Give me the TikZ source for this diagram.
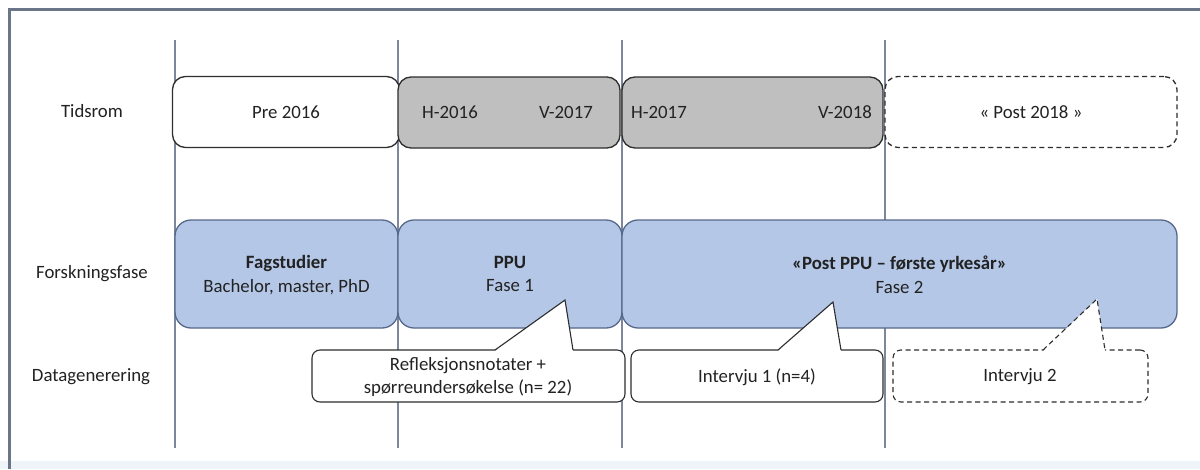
\documentclass[tikz,border=0pt]{standalone}
\usepackage{fontspec}
\setmainfont{Carlito}
\usetikzlibrary{calc}
\definecolor{txtc}{HTML}{222222}
\definecolor{bluefill}{HTML}{B4C7E7}
\definecolor{blueline}{HTML}{55688A}
\definecolor{grayfill}{HTML}{BFBFBF}
\definecolor{grayline}{HTML}{2E2E2E}
\definecolor{vline}{HTML}{7C879B}
\definecolor{framec}{HTML}{6A7688}
\definecolor{bottomc}{HTML}{EEF4F8}
\tikzset{
  lbl/.style={font=\fontsize{18.8}{23.5}\selectfont, text=txtc, inner sep=0pt},
  txt/.style={font=\fontsize{18.8}{23.5}\selectfont, text=txtc, align=center, inner sep=0pt},
  timebox/.style={draw=grayline, line width=1.3pt, rounded corners=13pt, minimum height=71pt, inner sep=0pt},
  phasebox/.style={draw=blueline, fill=bluefill, line width=1.3pt, rounded corners=16pt, minimum height=108pt, inner sep=0pt},
  databox/.style={draw=grayline, fill=white, line width=1.1pt, rounded corners=8pt, minimum height=52pt, inner sep=0pt},
  divider/.style={draw=vline, line width=1.2pt},
  ptr/.style={draw=grayline, line width=1.1pt, line join=miter},
  dashline/.style={dashed, dash pattern=on 5pt off 3.5pt},
}
\begin{document}
\begin{tikzpicture}[x=1pt,y=-1pt]
\useasboundingbox (0,0) rectangle (1200,469);
\fill[white] (0,0) rectangle (1200,469);
\fill[bottomc] (0,461) rectangle (1200,469);
% frame
\coordinate (fa) at (9,469);
\coordinate (fb) at (9,9);
\coordinate (fc) at (1200,9);
\draw[framec, line width=3pt] (fa) -- (fb) -- (fc);
% dividers
\foreach \n/\x in {d1/175, d2/398, d3/622, d4/885}{
  \coordinate (\n t) at (\x,40);
  \coordinate (\n b) at (\x,448);
  \draw[divider] (\n t) -- (\n b);
}
% row labels
\node[lbl] (lab1) at (92,111) {Tidsrom};
\node[lbl] (lab2) at (92,274) {Forskningsfase};
\node[lbl] (lab3) at (91,377) {Datagenerering};
% row 1
\node[timebox, fill=white, minimum width=227pt] (pre) at (286,112) {};
\node[txt] (pret) at (pre) {Pre 2016};
\node[timebox, fill=grayfill, minimum width=222pt] (h16) at (509,112.5) {};
\node[txt] (h16a) at (450,112) {H-2016};
\node[txt] (h16b) at (566,112) {V-2017};
\node[timebox, fill=grayfill, minimum width=261pt] (h17) at (752.5,112.5) {};
\node[txt] (h17a) at (659,112) {H-2017};
\node[txt] (h17b) at (845,112) {V-2018};
\node[timebox, fill=white, dashline, minimum width=292pt] (post) at (1031,112) {};
\node[txt] (postt) at (post) {« Post 2018 »};
% row 2
\node[phasebox, minimum width=223pt] (fag) at (286.5,274) {};
\node[txt] (fagt) at (286.5,275) {\textbf{Fagstudier}\\Bachelor, master, PhD};
\node[phasebox, minimum width=224pt] (ppu) at (510,274) {};
\node[txt] (pput) at (510,274) {\textbf{PPU}\\Fase 1};
\node[phasebox, minimum width=555pt] (pppu) at (899.5,274) {};
\node[txt] (pppt) at (899.5,275) {\textbf{«Post PPU – første yrkesår»}\\Fase 2};
% row 3
\node[databox, minimum width=313pt] (refl) at (468.5,376) {};
\node[txt] (reflt) at (468,377) {Refleksjonsnotater +\\spørreundersøkelse (n= 22)};
\node[databox, minimum width=252pt] (int1) at (757,376) {};
\node[txt] (int1t) at (757,377) {Intervju 1 (n=4)};
\node[databox, dashline, minimum width=255pt] (int2) at (1020.5,376) {};
\node[txt] (int2t) at (1020,377) {Intervju 2};
% pointers
\coordinate (r1) at (495,350); \coordinate (rt) at (565,300); \coordinate (r2) at (573,350);
\fill[white] ($(r1)+(0,1)$) -- (rt) -- ($(r2)+(0,1)$) -- cycle;
\draw[ptr] (r1) -- (rt) -- (r2);
\coordinate (i1) at (778,350); \coordinate (it) at (833,302); \coordinate (i2) at (841,350);
\fill[white] ($(i1)+(0,1)$) -- (it) -- ($(i2)+(0,1)$) -- cycle;
\draw[ptr] (i1) -- (it) -- (i2);
\coordinate (j1) at (1043,350); \coordinate (jt) at (1097,299); \coordinate (j2) at (1105,350);
\fill[white] ($(j1)+(0,1)$) -- (jt) -- ($(j2)+(0,1)$) -- cycle;
\draw[ptr, dashline] (j1) -- (jt) -- (j2);
\end{tikzpicture}
\end{document}
